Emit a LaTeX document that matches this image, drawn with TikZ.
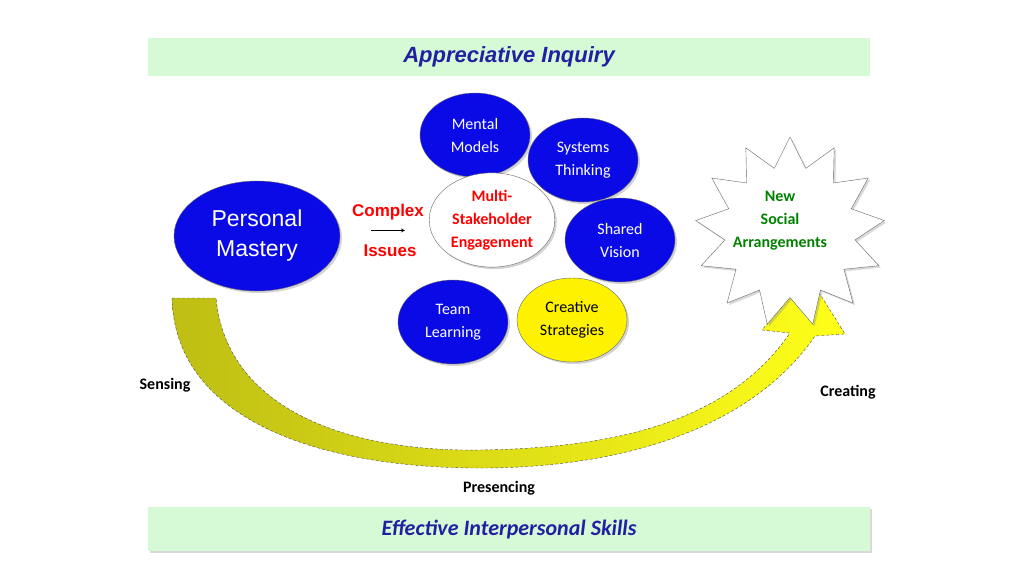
\documentclass[tikz,border=0pt]{standalone}
\usepackage{fontspec}
\setmainfont{Carlito}
\newfontfamily\arialfont{Liberation Sans}
\usetikzlibrary{positioning,shadows,shapes.geometric}
\definecolor{bannergreen}{RGB}{214,250,214}
\definecolor{darkblue}{RGB}{32,32,160}
\definecolor{discblue}{RGB}{10,10,230}
\definecolor{olivearrow}{RGB}{190,190,20}
\definecolor{labelgreen}{RGB}{0,130,0}
\tikzset{%
  >=stealth,
  banner/.style={rectangle,fill=bannergreen,draw=none,minimum width=722pt,font=\fontsize{22}{24}\selectfont\bfseries\itshape,text=darkblue},
  disc/.style={ellipse,draw=black!60,fill=discblue,text=white,align=center,font=\fontsize{16}{23}\selectfont,minimum width=110pt,minimum height=84pt,drop shadow={opacity=.35,shadow xshift=2pt,shadow yshift=-2pt}},
  redtext/.style={text=red,font=\arialfont\fontsize{17}{19}\selectfont\bfseries},
  stage/.style={font=\fontsize{16}{18}\selectfont\bfseries}
}
\begin{document}
\begin{tikzpicture}[x=1pt,y=-1pt]
	\useasboundingbox (0,0) rectangle (1024,576);
	% banners
	\node[banner,minimum height=38pt] (inquiry) at (509,57) {\arialfont Appreciative Inquiry};
	\node[banner,minimum height=44pt,drop shadow={opacity=.3,shadow xshift=2pt,shadow yshift=-2pt}] (skills) at (509,529) {Effective Interpersonal Skills};
	
	% curved arrow
	\path[draw=black!70,densely dashed,left color=olivearrow,right color=yellow!90!white]
	  (172,298) -- (216,298) .. controls (226,405) and (340,452) .. (480,450)
	  .. controls (620,448) and (730,420) .. (790,333) -- (762,330) -- (808,275) -- (845,334) -- (815,336)
	  .. controls (750,430) and (620,468) .. (480,468)
	  .. controls (320,468) and (175,420) .. (172,298) -- cycle;
	
	% star
	\node[draw=black!60,fill=white,drop shadow={opacity=.3,shadow xshift=2pt,shadow yshift=-2pt},star,star points=13,star point ratio=1.45,minimum size=190pt] (star) at (790,232) {};
	\node[align=center,text=labelgreen,font=\fontsize{16}{23}\selectfont\bfseries] (newsocial) at (780,221) {New\\Social\\Arrangements};
	
	% discs
	\node[disc,minimum width=166pt,minimum height=110pt,font=\arialfont\fontsize{23}{30}\selectfont] (mastery) at (257,236) {Personal\\Mastery};
	\node[disc] (mental) at (475,135) {Mental\\Models};
	\node[disc] (systems) at (583,160) {Systems\\Thinking};
	\node[disc] (vision) at (620,240) {Shared\\Vision};
	\node[disc] (team) at (453,322) {Team\\Learning};
	\node[disc,fill=yellow,text=black] (creative) at (572,320) {Creative\\Strategies};
	\node[disc,fill=white,text=red,font=\fontsize{16}{23}\selectfont\bfseries,minimum width=110pt,minimum height=90pt] (multi) at (492,220) {Multi-\\Stakeholder\\Engagement};
	
	% complex issues
	\node[redtext] (complex) at (388,212) {Complex};
	\node[redtext] (issues) at (390,251) {Issues};
	\draw[->,thick] ([xshift=-17pt,yshift=-7pt]complex.south) -- ([xshift=17pt,yshift=-7pt]complex.south);
	
	% stages
	\node[stage] (sensing) at (165,385) {Sensing};
	\node[stage] (creating) at (848,392) {Creating};
	\node[stage] (presencing) at (499,488) {Presencing};
\end{tikzpicture}
\end{document}
